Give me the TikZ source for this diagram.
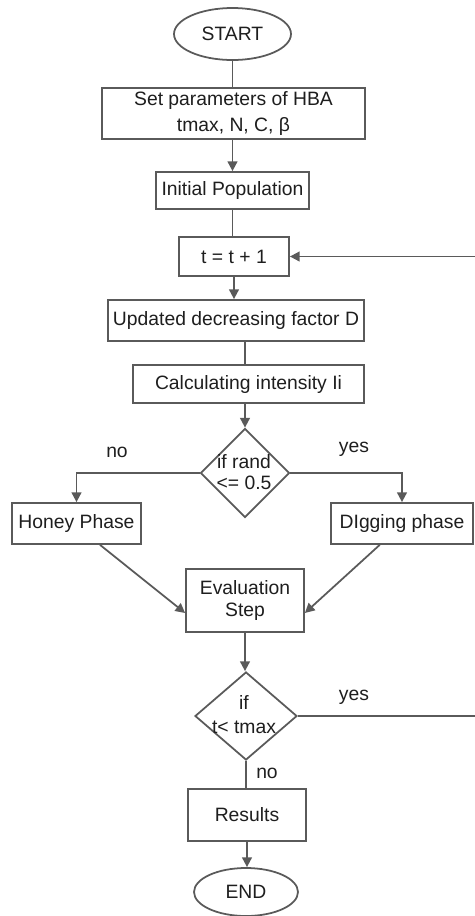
\documentclass[tikz,border=0pt]{standalone}
\usepackage{fontspec}
\setmainfont{Liberation Sans}
\usepackage{xcolor}
\usepackage{tikz}
\usetikzlibrary{arrows.meta, positioning, shapes.geometric, calc}
\definecolor{hbacolor0}{HTML}{FFFFFF}
\definecolor{hbacolor1}{HTML}{5A5A5A}
\definecolor{hbacolor2}{HTML}{1E1E1E}
\tikzset{
  flow_text/.style={font=\fontsize{11}{13.5}\selectfont, text=hbacolor2, align=center},
  element_terminal_node/.style={ellipse, draw=hbacolor1, fill=hbacolor0, line width=1pt, inner sep=0pt, flow_text},
  element_process_node/.style={rectangle, draw=hbacolor1, fill=hbacolor0, line width=1pt, inner sep=0pt, flow_text},
  element_decision_node/.style={diamond, draw=hbacolor1, fill=hbacolor0, line width=1pt, inner sep=0pt},
  edge_flow_edge/.style={line width=1pt, color=hbacolor1},
  dep_flow_arrow/.style={edge_flow_edge, -{Triangle[length=5.5pt, width=5.5pt]}},
  comment_branch_label/.style={flow_text, inner sep=0pt}
}

\begin{document}
\begin{tikzpicture}[x=1cm, y=1cm]
\path[use as bounding box] (0, 0) rectangle (9.5, -18.32);
\node[element_terminal_node, minimum width=2.34cm, minimum height=1.04cm] (start_node) at (4.65, -0.68) {START};
\node[element_process_node, minimum width=5.26cm, minimum height=1.02cm, font=\fontsize{11}{14.5}\selectfont] (params_node) at (4.67, -2.27) {Set parameters of HBA\\tmax, N, C, β};
\node[element_process_node, minimum width=3.06cm, minimum height=0.74cm] (init_node) at (4.65, -3.81) {Initial Population};
\node[element_process_node, minimum width=2.2cm, minimum height=0.78cm] (tstep_node) at (4.68, -5.13) {t = t + 1};
\node[element_process_node, minimum width=5.12cm, minimum height=0.82cm] (update_node) at (4.72, -6.41) {Updated decreasing factor D};
\node[element_process_node, minimum width=4.62cm, minimum height=0.76cm] (intensity_node) at (4.97, -7.68) {Calculating intensity Ii};
\node[element_decision_node, minimum width=1.78cm, minimum height=1.78cm] (rand_node) at (4.9, -9.46) {};
\node[flow_text, font=\fontsize{11}{11.9}\selectfont, inner sep=0pt] (rand_text) at (4.88, -9.44) {if rand\\<= 0.5};
\node[element_process_node, minimum width=2.58cm, minimum height=0.82cm] (honey_node) at (1.53, -10.47) {Honey Phase};
\node[element_process_node, minimum width=2.84cm, minimum height=0.82cm] (digging_node) at (8.04, -10.47) {DIgging phase};
\node[element_process_node, minimum width=2.36cm, minimum height=1.26cm, font=\fontsize{11}{12.6}\selectfont] (eval_node) at (4.9, -12.01) {Evaluation\\Step};
\node[element_decision_node, minimum width=2.04cm, minimum height=1.76cm] (tmax_node) at (4.92, -14.32) {};
\node[flow_text, font=\fontsize{11}{13.6}\selectfont, inner sep=0pt] (tmax_text) at (4.88, -14.30) {if\\t< tmax};
\node[element_process_node, minimum width=2.36cm, minimum height=1.04cm] (results_node) at (4.94, -16.3) {Results};
\node[element_terminal_node, minimum width=2.08cm, minimum height=0.96cm] (end_node) at (4.92, -17.84) {END};
\node[comment_branch_label] (no_rand) at (2.34, -9.04) {no};
\node[comment_branch_label] (yes_rand) at (7.08, -8.98) {yes};
\node[comment_branch_label] (yes_tmax) at (7.08, -13.94) {yes};
\node[comment_branch_label] (no_tmax) at (5.34, -15.46) {no};
\coordinate (loop_corner) at (9.58, -14.32);
\draw[edge_flow_edge] (start_node.south) -- (start_node.south |- params_node.north);
\draw[dep_flow_arrow] (init_node.north |- params_node.south) -- (init_node.north);
\draw[edge_flow_edge] (init_node.south) -- (init_node.south |- tstep_node.north);
\draw[dep_flow_arrow] (tstep_node.south) -- (tstep_node.south |- update_node.north);
\draw[edge_flow_edge] (rand_node |- update_node.south) -- (rand_node |- intensity_node.north);
\draw[dep_flow_arrow] (rand_node |- intensity_node.south) -- (rand_node.north);
\draw[dep_flow_arrow] (rand_node.west) -| (honey_node.north);
\draw[dep_flow_arrow] (rand_node.east) -| (digging_node.north);
\draw[dep_flow_arrow] ($(honey_node.south west)!0.68!(honey_node.south east)$) -- ($(eval_node.west)+(0,-0.25)$);
\draw[dep_flow_arrow] ($(digging_node.south west)!0.345!(digging_node.south east)$) -- ($(eval_node.east)+(0,-0.25)$);
\draw[dep_flow_arrow] (eval_node.south) -- (eval_node.south |- tmax_node.north);
\draw[edge_flow_edge] (tmax_node.south) -- (tmax_node.south |- results_node.north);
\draw[dep_flow_arrow] (results_node.south) -- (results_node.south |- end_node.north);
\draw[dep_flow_arrow] (tmax_node.east) -- (loop_corner) |- (tstep_node.east);
\end{tikzpicture}
\end{document}
